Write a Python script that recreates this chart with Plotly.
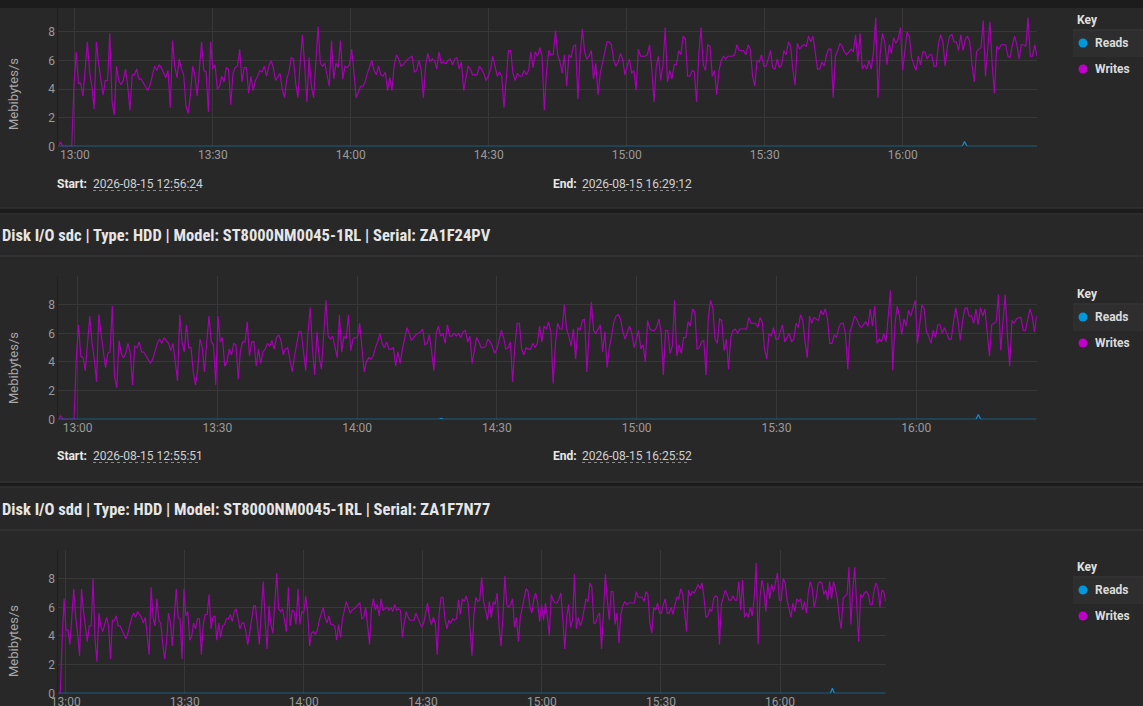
import plotly.graph_objects as go
import pandas as pd

W, H = 1143, 706

# ---------------- data ----------------
panel_titles = [
    "",
    "Disk I/O sdc | Type: HDD | Model: ST8000NM0045-1RL | Serial: ZA1F24PV",
    "Disk I/O sdd | Type: HDD | Model: ST8000NM0045-1RL | Serial: ZA1F7N77",
]
start_times = ["2026-08-15 12:56:24", "2026-08-15 12:55:51", "2026-08-15 12:58:08"]
end_times = ["2026-08-15 16:29:12", "2026-08-15 16:25:52", "2026-08-15 16:26:38"]
series_names = ["Reads", "Writes"]
y_ticks = [0, 2, 4, 6, 8]

writes_1 = [
    0, 0.3, 0, 0, 0, 0, 0, 4.3, 6.6, 4.4, 4.4, 3.5, 5.5, 7.3, 5.2, 4.2, 2.6, 7.3, 5.8, 4.8,
    3.6, 4.6, 4.6, 7.9, 3.1, 2.2, 5.6, 4.6, 4.3, 4.6, 5.4, 4.2, 2.5, 5.0, 5.0, 5.4, 4.7, 4.7, 4.4, 4.1,
    3.9, 4.3, 4.9, 5.6, 5.3, 5.7, 5.5, 5.2, 4.8, 5.3, 2.7, 7.4, 5.6, 4.8, 6.1, 5.4, 5.0, 2.8, 2.3, 3.6,
    5.6, 5.0, 3.5, 5.4, 7.3, 5.3, 5.2, 2.4, 7.3, 5.4, 5.7, 4.0, 4.2, 4.9, 4.5, 5.5, 5.4, 2.9, 5.1, 5.5,
    5.6, 6.8, 4.5, 5.5, 5.5, 3.7, 4.9, 3.9, 4.6, 4.9, 5.3, 5.2, 5.6, 4.9, 5.6, 6.0, 5.5, 4.6, 4.9, 5.1,
    4.0, 3.4, 4.7, 5.2, 6.2, 6.1, 4.4, 3.4, 5.8, 7.8, 5.7, 3.1, 6.2, 4.2, 3.4, 6.0, 8.4, 5.8, 5.6, 5.8,
    5.0, 4.2, 7.4, 4.7, 5.8, 5.5, 7.4, 4.7, 5.6, 5.5, 5.7, 6.8, 5.2, 3.4, 3.8, 4.2, 4.2, 4.5, 5.1, 5.5,
    6.0, 5.3, 5.0, 5.6, 5.0, 4.9, 5.2, 3.9, 4.8, 3.9, 5.7,
    6.4, 6.1, 5.6, 5.7, 5.9, 6.1, 6.2, 6.3, 5.2, 5.3, 6.0, 5.4, 3.4, 5.6, 6.5, 5.9, 6.1, 6.0, 5.4, 6.6,
    5.8, 5.9, 5.8, 6.0, 6.1, 5.7, 6.1, 6.2, 5.4, 5.9, 3.9, 4.9, 5.6, 5.4, 5.0, 5.0, 5.0, 5.6, 5.4, 5.1,
    4.6, 4.9, 5.4, 6.3, 5.6, 4.9, 5.2, 4.9, 2.7, 4.9, 6.7, 6.7, 5.1, 4.6, 5.1, 4.9, 4.9, 5.3, 5.0, 5.3,
    6.6, 5.5, 6.6, 6.3, 6.9, 6.3, 2.5, 5.2, 6.7, 6.4, 6.4, 8.1, 6.4, 5.9, 5.1, 6.4, 4.2, 6.4, 6.2, 7.0,
    7.1, 3.3, 6.4, 8.2, 6.6, 6.1, 6.3, 6.7, 4.7, 5.8, 3.6, 5.1, 5.8, 6.6, 7.3, 7.3, 7.1, 6.0, 5.6, 5.9,
    6.5, 6.1, 5.0, 5.6, 6.1, 5.1, 5.3, 3.9, 6.8, 6.3, 6.3, 6.3, 6.4, 7.1, 5.4, 3.1, 5.6, 6.3, 4.6, 5.7,
    8.3, 4.5, 5.3, 4.7, 5.7, 5.7, 6.7, 6.4, 7.7, 7.5, 4.9, 4.9, 5.3, 5.2, 3.1, 6.5, 8.3, 5.7, 5.3, 7.1,
    7.0, 4.9, 5.3,
    3.6, 5.3, 6.0, 6.3, 6.1, 6.3, 6.3, 6.3, 6.4, 7.1, 6.7, 6.7, 6.7, 6.4, 7.1, 6.8, 4.9, 4.2, 6.0, 5.9,
    6.4, 5.6, 5.6, 6.1, 6.7, 5.5, 5.4, 6.1, 5.5, 5.7, 6.7, 6.4, 7.3, 7.0, 5.3, 4.3, 7.2, 6.8, 7.0, 7.1,
    7.0, 7.7, 7.3, 7.7, 6.6, 5.4, 5.4, 5.9, 5.6, 6.4, 6.8, 6.8, 3.4, 6.3, 6.7, 7.2, 7.0, 6.6, 6.4, 6.6,
    6.8, 6.6, 7.8, 5.9, 7.9, 5.4, 5.7, 5.4, 6.0, 5.4, 6.6, 9.0, 3.4, 6.5, 7.9, 7.3, 5.7, 7.1, 6.5, 7.6,
    7.2, 7.5, 8.3, 5.3, 6.7, 8.0, 7.7, 6.2, 5.7, 5.3, 6.3, 5.7, 6.6, 6.6, 6.1, 6.4, 6.4, 5.6, 5.6, 7.2,
    7.8, 7.3, 5.6, 7.0, 7.7, 7.8, 7.3, 7.3, 6.7, 7.8, 6.7, 7.5, 7.7, 7.3, 5.7, 4.5, 6.6, 6.8, 6.9, 8.8,
    4.9, 7.1, 8.7, 5.7, 3.7, 7.0, 6.8, 7.1, 7.1, 7.1, 6.3, 6.2, 7.1, 7.7, 7.1, 6.1, 7.1, 7.1, 7.0, 9.0,
    6.3, 6.3, 7.1, 6.3,
]

writes_2 = [
    0, 0.25, 0, 0, 0, 0, 0, 0, 4.3, 6.6, 4.4, 4.3, 3.4, 5.3, 7.2, 5.3, 4.2, 2.6, 7.3, 6.0,
    4.9, 3.6, 4.6, 4.7, 7.9, 3.0, 2.2, 5.5, 4.6, 4.3, 4.6, 5.3, 4.6, 2.4, 5.1, 5.0, 5.4, 4.7, 4.7, 4.4,
    4.1, 3.9, 4.2, 4.8, 5.3, 5.6, 5.3, 5.7, 5.5, 5.3, 4.8, 5.3, 4.0, 2.7, 7.3, 5.4, 4.7, 6.6, 5.0, 5.0,
    3.3, 2.4, 3.5, 5.6, 5.0, 3.3, 5.4, 7.2, 5.4, 5.2, 2.4, 7.2, 5.4, 5.7, 3.7, 4.0, 4.9, 4.5, 5.3, 5.2,
    2.8, 4.8, 5.4, 5.4, 6.8, 4.4, 5.4, 5.4, 3.7, 4.9, 3.9, 4.7, 4.9, 5.3, 5.1, 5.5, 4.9, 5.7, 5.9, 5.5,
    4.5, 4.9, 5.0, 4.0, 3.3, 4.4, 5.3, 6.1, 6.1, 4.7, 3.4, 6.0, 7.8, 4.9, 3.1, 6.1, 4.3, 3.5, 6.1, 8.3,
    5.8, 5.6, 5.8, 5.0, 4.3, 7.3, 4.7, 5.8, 5.6, 7.3, 4.8, 5.6, 5.7, 5.7, 6.7, 5.0, 3.3, 4.0, 4.3, 4.2,
    4.4, 5.0, 5.4, 6.0, 5.3,
    5.0, 5.4, 4.9, 4.9, 5.0, 3.7, 4.7, 3.9, 4.9, 5.8, 6.4, 6.0, 5.5, 5.7, 5.9, 6.0, 6.1, 6.3, 5.2, 5.3,
    5.9, 4.7, 3.4, 6.0, 6.5, 5.8, 6.0, 5.3, 6.6, 5.8, 5.8, 6.0, 5.8, 6.0, 5.7, 6.1, 6.2, 5.4, 5.8, 3.9,
    4.9, 5.7, 5.4, 5.0, 5.0, 5.1, 5.6, 5.4, 5.1, 4.6, 4.9, 5.6, 6.2, 5.7, 4.9, 5.0, 5.4, 2.6, 5.1, 6.7,
    6.7, 4.9, 4.5, 5.0, 4.9, 4.9, 5.3, 5.0, 5.3, 6.5, 5.4, 6.5, 6.3, 6.8, 6.1, 2.5, 5.2, 6.7, 6.3, 6.3,
    8.0, 6.3, 5.8, 5.1, 6.3, 4.2, 6.4, 6.2, 6.9, 7.0, 3.3, 6.0, 8.2, 6.2, 6.0, 6.3, 6.6, 4.7, 6.1, 3.6,
    5.0, 5.8, 6.8, 7.2, 7.3, 7.0, 6.1, 5.6, 6.0, 6.5, 6.0, 5.0, 5.6, 6.2, 4.9, 5.2, 4.0, 6.9, 6.3, 6.2,
    6.2, 6.4, 7.0, 6.1, 3.1, 6.2, 6.2, 4.6, 5.1, 8.3, 4.4, 5.2, 4.6, 5.7, 5.7, 6.8, 6.5, 7.7, 7.5, 4.9,
    5.0, 5.4, 5.5, 3.1, 7.1, 8.3,
    7.8, 5.6, 5.3, 7.0, 6.9, 4.8, 5.6, 3.5, 5.7, 6.2, 6.3, 6.0, 6.3, 6.3, 6.3, 6.3, 7.1, 6.7, 6.7, 6.7,
    6.4, 7.1, 6.8, 4.9, 4.2, 6.0, 5.8, 6.4, 5.6, 5.6, 6.1, 6.6, 5.4, 5.7, 6.0, 5.4, 5.6, 6.7, 6.4, 7.3,
    6.9, 5.4, 4.3, 7.2, 6.7, 7.1, 7.0, 6.9, 7.6, 7.3, 7.7, 7.0, 5.3, 5.3, 5.9, 5.7, 6.4, 6.7, 6.7, 5.9,
    3.5, 6.1, 6.6, 7.2, 7.0, 6.6, 6.4, 6.6, 6.8, 6.5, 7.7, 6.5, 7.9, 5.3, 5.6, 5.4, 6.0, 5.4, 7.2, 9.0,
    3.4, 6.7, 7.9, 7.2, 5.9, 7.0, 6.5, 7.6, 7.2, 7.7, 8.3, 5.3, 6.7, 8.0, 7.7, 6.1, 5.8, 5.3, 6.2, 5.7,
    6.6, 6.6, 6.0, 6.4, 6.0, 5.6, 5.6, 6.8, 7.8, 6.9, 5.5, 6.8, 7.7, 7.8, 7.2, 7.2, 6.7, 7.7, 6.6, 7.8,
    7.2, 7.7, 6.1, 4.4, 6.6, 6.7, 6.8, 8.7, 4.8, 6.8, 8.7, 5.8, 3.7, 6.9, 6.7, 7.0, 7.1, 7.1, 6.2, 6.2,
    7.1, 7.7, 7.2, 6.1, 7.2,
]

writes_3 = [
    0, 0, 3.7, 6.6, 4.4, 4.4, 3.4, 5.2, 7.3, 5.3, 4.2, 2.6, 7.3, 5.8, 4.8, 3.6, 4.7, 4.7, 8.0, 3.8,
    2.2, 5.6, 4.7, 4.3, 4.8, 5.3, 4.7, 2.4, 5.1, 5.1, 5.4, 4.7, 4.7, 4.4, 4.1, 3.8, 4.2, 4.8, 5.3, 5.6,
    5.3, 5.7, 5.5, 5.3, 4.9, 5.3, 4.0, 2.7, 7.4, 5.3, 4.7, 6.6, 5.1, 4.9, 3.5, 2.4, 3.6, 5.6, 4.9, 3.3,
    5.3, 7.3, 5.3, 5.2, 2.4, 7.3, 5.4, 5.7, 3.7, 4.0, 4.9, 4.5, 5.2, 5.2, 2.7, 4.8, 5.5, 5.5, 6.9, 4.5,
    5.3, 5.4, 3.7, 4.9, 3.9, 4.7, 4.8, 5.2, 5.2, 5.5, 5.0, 5.7, 5.9, 5.3, 4.5, 4.9, 4.9, 4.3, 3.4, 4.2,
    5.2, 6.1, 6.1, 4.5, 3.4, 5.7, 7.8, 5.1, 3.1, 6.1, 4.8, 4.2, 6.2, 8.4, 5.9, 5.7, 5.9, 5.0, 4.3, 7.4,
    4.7, 5.8, 5.7, 4.8, 7.3, 4.8, 5.7, 5.6, 6.8, 5.6, 3.3, 4.2, 4.3, 4.1, 4.4, 5.1, 5.6, 6.0, 5.3, 4.9,
    5.4, 4.8, 4.8,
    4.7, 3.7, 4.8, 3.9, 5.2, 5.8, 6.4, 6.0, 5.6, 5.8, 5.9, 6.0, 6.2, 6.3, 5.2, 5.3, 6.0, 4.8, 3.4, 5.9,
    6.6, 5.8, 6.2, 5.4, 6.6, 5.8, 5.9, 6.0, 5.8, 6.0, 5.7, 6.2, 5.8, 5.9, 5.8, 3.9, 4.9, 5.7, 5.3, 5.1,
    5.1, 5.1, 5.6, 5.3, 4.9, 4.6, 4.9, 5.7, 6.3, 5.3, 4.8, 5.3, 4.9, 2.7, 5.6, 6.7, 6.7, 5.2, 4.5, 5.1,
    4.9, 5.2, 5.1, 5.2, 6.5, 5.5, 6.6, 6.4, 6.8, 6.3, 4.4, 2.6, 5.5, 6.7, 6.4, 6.5, 8.1, 6.4, 5.8, 5.1,
    6.4, 5.3, 6.4, 6.2, 7.0, 4.7, 3.3, 5.3, 8.2, 6.2, 6.0, 6.2, 6.6, 4.6, 5.3, 3.6, 5.3, 6.0, 6.7, 7.3,
    7.1, 6.0, 5.6, 6.6, 7.0, 6.3, 5.0, 6.2, 5.1, 6.3, 5.3, 4.0, 6.9, 6.5, 6.3, 6.3, 6.6, 7.0, 5.1, 3.1,
    5.3, 6.2, 4.6, 5.1, 8.3, 4.5, 5.3, 4.7, 5.1, 5.8, 6.6, 6.4, 7.7, 7.4, 4.9, 4.9, 5.4, 5.6, 3.1, 5.6,
    8.3, 6.5, 5.1, 7.1, 7.1,
    4.8, 5.6, 3.5, 5.5, 6.1, 6.4, 6.2, 6.3, 6.3, 6.3, 6.3, 7.1, 6.7, 6.7, 6.7, 6.4, 7.1, 6.9, 4.9, 4.2,
    6.0, 5.8, 6.3, 5.6, 5.6, 6.2, 6.6, 5.6, 5.6, 6.0, 5.5, 6.2, 6.7, 6.6, 7.3, 6.9, 5.5, 4.3, 7.2, 6.8,
    7.1, 7.0, 7.3, 7.6, 7.3, 7.7, 6.7, 5.3, 5.4, 5.9, 5.7, 6.6, 6.8, 6.7, 3.4, 6.2, 6.7, 7.2, 6.9, 6.5,
    6.5, 6.8, 6.5, 6.5, 7.8, 5.8, 7.9, 5.3, 5.6, 5.3, 6.0, 5.4, 6.7, 9.1, 3.4, 6.7, 7.9, 7.2, 5.7, 7.7,
    6.6, 7.6, 7.1, 7.7, 8.4, 6.5, 6.5, 8.0, 7.7, 6.5, 5.8, 5.3, 6.3, 5.7, 6.6, 6.4, 6.6, 5.8, 6.4, 5.6,
    7.1, 7.8, 7.3, 6.0, 6.6, 7.6, 7.8, 7.7, 6.9, 7.2, 6.5, 7.8, 6.6, 7.8, 7.3, 6.6, 5.3, 4.5, 6.6, 6.8,
    6.9, 8.8, 4.8, 7.3, 8.8, 5.9, 3.6, 6.9, 6.7, 7.0, 7.1, 6.9, 6.2, 6.2, 7.2, 7.7, 7.3, 6.0, 7.2, 7.1,
    6.4,
]

reads_1 = [
    0, 0, 0, 0, 0, 0, 0, 0, 0, 0, 0, 0, 0, 0, 0, 0, 0, 0, 0, 0,
    0, 0, 0, 0, 0, 0, 0, 0, 0, 0, 0, 0, 0, 0, 0, 0, 0, 0, 0, 0,
    0, 0, 0, 0, 0, 0, 0, 0, 0, 0, 0, 0, 0, 0, 0, 0, 0, 0, 0, 0,
    0, 0, 0, 0, 0, 0, 0, 0, 0, 0, 0, 0, 0, 0, 0, 0, 0, 0, 0, 0,
    0, 0, 0, 0, 0, 0, 0, 0, 0, 0, 0, 0, 0, 0, 0, 0, 0, 0, 0, 0,
    0, 0, 0, 0, 0, 0, 0, 0, 0, 0, 0, 0, 0, 0, 0, 0, 0, 0, 0, 0,
    0, 0, 0, 0, 0, 0, 0, 0, 0, 0, 0, 0, 0, 0, 0, 0, 0, 0, 0, 0,
    0, 0, 0, 0, 0, 0, 0, 0, 0, 0, 0, 0, 0, 0, 0, 0, 0, 0, 0, 0,
    0, 0.05, 0, 0, 0, 0, 0, 0, 0, 0, 0, 0, 0, 0, 0, 0, 0, 0, 0, 0,
    0, 0, 0, 0, 0, 0, 0, 0, 0, 0, 0, 0, 0, 0, 0, 0, 0, 0, 0, 0,
    0, 0, 0, 0, 0, 0, 0, 0, 0, 0, 0, 0, 0, 0, 0, 0, 0, 0, 0, 0,
    0, 0, 0, 0, 0, 0, 0, 0, 0, 0, 0, 0, 0, 0, 0, 0, 0, 0, 0, 0,
    0, 0, 0, 0, 0, 0, 0, 0, 0, 0, 0, 0, 0, 0, 0, 0, 0, 0, 0, 0,
    0, 0, 0, 0, 0, 0, 0, 0, 0, 0, 0, 0, 0, 0, 0, 0, 0, 0, 0, 0,
    0, 0, 0, 0, 0, 0, 0, 0, 0, 0, 0, 0, 0, 0, 0, 0, 0, 0, 0, 0,
    0, 0, 0, 0, 0, 0, 0, 0, 0, 0, 0, 0, 0, 0, 0, 0, 0, 0, 0, 0,
    0, 0, 0, 0, 0, 0, 0, 0, 0, 0, 0, 0, 0, 0, 0, 0, 0, 0, 0, 0,
    0, 0, 0, 0, 0, 0, 0, 0, 0, 0, 0, 0, 0, 0, 0, 0, 0, 0, 0, 0,
    0, 0, 0, 0, 0, 0, 0, 0, 0, 0, 0, 0, 0, 0, 0, 0, 0, 0, 0, 0,
    0, 0, 0, 0, 0, 0, 0, 0, 0.33, 0, 0, 0, 0, 0, 0, 0, 0, 0, 0, 0,
    0, 0, 0, 0, 0, 0, 0, 0, 0, 0, 0, 0, 0, 0, 0, 0, 0, 0, 0, 0,
]

reads_2 = [
    0, 0, 0, 0, 0, 0, 0, 0, 0, 0, 0, 0, 0, 0, 0, 0, 0, 0, 0, 0,
    0, 0, 0, 0, 0, 0, 0, 0, 0, 0, 0, 0, 0, 0, 0, 0, 0, 0, 0, 0,
    0, 0, 0, 0, 0, 0, 0, 0, 0, 0, 0, 0, 0, 0, 0, 0, 0, 0, 0, 0,
    0, 0, 0, 0, 0, 0, 0, 0, 0, 0, 0, 0, 0, 0, 0, 0, 0, 0, 0, 0,
    0, 0, 0, 0, 0, 0, 0, 0, 0, 0, 0, 0, 0, 0, 0, 0, 0, 0, 0, 0,
    0, 0, 0, 0, 0, 0, 0, 0, 0, 0, 0, 0, 0, 0, 0, 0, 0, 0, 0, 0,
    0, 0, 0, 0, 0, 0, 0, 0, 0, 0, 0, 0, 0, 0, 0, 0, 0, 0, 0, 0,
    0, 0, 0, 0, 0, 0, 0, 0, 0, 0, 0, 0, 0, 0, 0, 0, 0, 0, 0, 0,
    0, 0, 0, 0, 0.06, 0, 0, 0, 0, 0, 0, 0, 0, 0, 0, 0, 0, 0, 0, 0,
    0, 0, 0, 0, 0, 0, 0, 0, 0, 0, 0, 0, 0, 0, 0, 0, 0, 0, 0, 0,
    0, 0, 0, 0, 0, 0, 0, 0, 0, 0, 0, 0, 0, 0, 0, 0, 0, 0, 0, 0,
    0, 0, 0, 0, 0, 0, 0, 0, 0, 0, 0, 0, 0, 0, 0, 0, 0, 0, 0, 0,
    0, 0, 0, 0, 0, 0, 0, 0, 0, 0, 0, 0, 0, 0, 0, 0, 0, 0, 0, 0,
    0, 0, 0, 0, 0, 0, 0, 0, 0, 0, 0, 0, 0, 0, 0, 0, 0, 0, 0, 0,
    0, 0, 0, 0, 0, 0, 0, 0, 0, 0, 0, 0, 0, 0, 0, 0, 0, 0, 0, 0,
    0, 0, 0, 0, 0, 0, 0, 0, 0, 0, 0, 0, 0, 0, 0, 0, 0, 0, 0, 0,
    0, 0, 0, 0, 0, 0, 0, 0, 0, 0, 0, 0, 0, 0, 0, 0, 0, 0, 0, 0,
    0, 0, 0, 0, 0, 0, 0, 0, 0, 0, 0, 0, 0, 0, 0, 0, 0, 0, 0, 0,
    0, 0, 0, 0, 0, 0, 0, 0, 0, 0, 0, 0, 0, 0, 0, 0, 0, 0, 0, 0,
    0, 0, 0, 0, 0, 0, 0, 0, 0, 0, 0, 0, 0, 0, 0.33, 0, 0, 0, 0, 0,
    0, 0, 0, 0, 0, 0, 0, 0, 0, 0, 0, 0, 0, 0, 0, 0, 0, 0, 0, 0,
]

reads_3 = [
    0, 0, 0, 0, 0, 0, 0, 0, 0, 0, 0, 0, 0, 0, 0, 0, 0, 0, 0, 0,
    0, 0, 0, 0, 0, 0, 0, 0, 0, 0, 0, 0, 0, 0, 0, 0, 0, 0, 0, 0,
    0, 0, 0, 0, 0, 0, 0, 0, 0, 0, 0, 0, 0, 0, 0, 0, 0, 0, 0, 0,
    0, 0, 0, 0, 0, 0, 0, 0, 0, 0, 0, 0, 0, 0, 0, 0, 0, 0, 0, 0,
    0, 0, 0, 0, 0, 0, 0, 0, 0, 0, 0, 0, 0, 0, 0, 0, 0, 0, 0, 0,
    0, 0, 0, 0, 0, 0, 0, 0, 0, 0, 0, 0, 0, 0, 0, 0, 0, 0, 0, 0,
    0, 0, 0, 0, 0, 0, 0, 0, 0, 0, 0, 0, 0, 0, 0, 0, 0, 0, 0, 0,
    0, 0, 0, 0, 0, 0, 0, 0, 0, 0, 0, 0.05, 0, 0, 0, 0, 0, 0, 0, 0,
    0, 0.05, 0, 0, 0, 0, 0, 0, 0, 0, 0, 0, 0, 0, 0, 0, 0, 0, 0, 0,
    0, 0, 0, 0, 0, 0, 0, 0, 0, 0, 0, 0, 0, 0, 0, 0, 0, 0, 0, 0,
    0, 0, 0, 0, 0, 0, 0, 0, 0, 0, 0, 0, 0, 0, 0, 0, 0, 0, 0, 0,
    0, 0, 0, 0, 0, 0, 0, 0, 0, 0, 0, 0, 0, 0, 0, 0, 0, 0, 0, 0,
    0, 0, 0, 0, 0, 0, 0, 0, 0, 0, 0, 0, 0, 0, 0, 0, 0, 0, 0, 0,
    0, 0, 0, 0, 0, 0, 0, 0, 0, 0, 0, 0, 0, 0, 0, 0, 0, 0, 0, 0,
    0, 0, 0, 0, 0, 0, 0, 0, 0, 0, 0, 0, 0, 0, 0, 0, 0, 0, 0, 0,
    0, 0, 0, 0, 0, 0, 0, 0, 0, 0, 0, 0, 0, 0, 0, 0, 0, 0, 0, 0,
    0, 0, 0, 0, 0, 0, 0, 0, 0, 0, 0, 0, 0, 0, 0, 0, 0, 0, 0, 0,
    0, 0, 0, 0, 0, 0, 0, 0, 0, 0, 0, 0, 0, 0, 0, 0, 0, 0, 0, 0,
    0, 0, 0, 0, 0, 0, 0, 0, 0, 0, 0, 0, 0, 0, 0, 0, 0, 0, 0, 0,
    0, 0, 0, 0, 0, 0, 0, 0, 0, 0, 0, 0, 0.35, 0, 0, 0, 0, 0, 0, 0,
    0, 0, 0, 0, 0, 0, 0, 0, 0, 0, 0, 0, 0, 0, 0, 0, 0, 0, 0, 0,
]

writes_all = [writes_1, writes_2, writes_3]
reads_all = [reads_1, reads_2, reads_3]

# ---------------- styling / geometry (pixels) ----------------
BG = "#282828"
BAND = "#1c1c1c"
GRID = "#383838"
TICK = "#9a9a9a"
READ_C = "#0d8fd1"
WRITE_C = "#a900b6"
READ_DOT = "#0098dc"
WRITE_DOT = "#c000c9"
FONT = "Roboto"
TITLE_FONT = "Liberation Sans Narrow, Roboto Condensed, Roboto"

geom = [
    dict(top=3.3, bottom=146.3, left=58.3, right=1037, key=20, ytitle=94, info=184, title=None),
    dict(top=276, bottom=419.3, left=58.3, right=1036.7, key=294, ytitle=368, info=456, title=235),
    dict(top=550, bottom=693.3, left=58.3, right=885.7, key=567, ytitle=641, info=None, title=509),
]


def fx(p):
    return p / W


def fy(p):
    return 1 - p / H


fig = go.Figure()
shapes = []
annotations = []

for i in range(3):
    g = geom[i]
    sfx = "" if i == 0 else str(i + 1)
    t_w = pd.date_range(start_times[i], end_times[i], periods=len(writes_all[i]))
    t_r = pd.date_range(start_times[i], end_times[i], periods=len(reads_all[i]))
    fig.add_trace(go.Scatter(x=t_w, y=writes_all[i], mode="lines", name=series_names[1],
                             line=dict(color=WRITE_C, width=1.15), showlegend=False,
                             xaxis="x" + sfx, yaxis="y" + sfx))
    fig.add_trace(go.Scatter(x=t_r, y=reads_all[i], mode="lines", name=series_names[0],
                             line=dict(color=READ_C, width=1.2), showlegend=False,
                             xaxis="x" + sfx, yaxis="y" + sfx))

    fig.update_layout(**{
        "xaxis" + sfx: dict(
            domain=[fx(g["left"]), fx(g["right"])], anchor="y" + sfx, automargin=False,
            type="date", range=[start_times[i], end_times[i]],
            tick0="2026-08-15 13:00:00", dtick=30 * 60 * 1000, tickformat="%H:%M",
            showgrid=True, gridcolor=GRID, gridwidth=1, zeroline=False, showline=False,
            ticks="", tickfont=dict(family=FONT, size=12, color=TICK),
        ),
        "yaxis" + sfx: dict(
            domain=[fy(g["bottom"]), fy(g["top"])], anchor="x" + sfx, automargin=False,
            range=[0, 10], tickvals=y_ticks, showgrid=True, gridcolor=GRID, gridwidth=1,
            zeroline=False, showline=True, linecolor="#1e1e1e", linewidth=1,
            ticks="", tickfont=dict(family=FONT, size=12, color=TICK),
        ),
    })

    # y-axis title
    annotations.append(dict(text="Mebibytes/s", x=fx(13), y=fy(g["ytitle"]), xref="paper", yref="paper",
                            xanchor="center", yanchor="middle", textangle=-90, showarrow=False,
                            font=dict(family=FONT, size=13, color="#a8a8a8")))

    # legend ("Key")
    k = g["key"]
    annotations.append(dict(text="<b>Key</b>", x=fx(1075), y=fy(k), xref="paper", yref="paper",
                            xanchor="left", yanchor="middle", showarrow=False,
                            font=dict(family=FONT, size=12, color="#e0e0e0")))
    shapes.append(dict(type="rect", xref="paper", yref="paper", x0=fx(1073), x1=1,
                       y0=fy(k + 37), y1=fy(k + 10.5), fillcolor="#2e2e2e", line=dict(width=0),
                       layer="below"))
    shapes.append(dict(type="line", xref="paper", yref="paper", x0=fx(1073), x1=1,
                       y0=fy(k + 10), y1=fy(k + 10), line=dict(color="#3a3a3a", width=1)))
    for j, (name, col, dy) in enumerate([(series_names[0], READ_DOT, 23), (series_names[1], WRITE_DOT, 49)]):
        cy = k + dy
        shapes.append(dict(type="circle", xref="paper", yref="paper",
                           x0=fx(1078.5), x1=fx(1087.5), y0=fy(cy + 4.5), y1=fy(cy - 4.5),
                           fillcolor=col, line=dict(width=0)))
        annotations.append(dict(text="<b>" + name + "</b>", x=fx(1093), y=fy(cy), xref="paper", yref="paper",
                                xanchor="left", yanchor="middle", showarrow=False,
                                font=dict(family=FONT, size=12, color="#dcdcdc")))

    # start / end info
    if g["info"] is not None:
        yy = g["info"]
        for lbl, lx, val, vx, vx2 in [("Start:", 55, start_times[i], 91, 199),
                                       ("End:", 551, end_times[i], 580, 688)]:
            annotations.append(dict(text="<b>" + lbl + "</b>", x=fx(lx), y=fy(yy), xref="paper", yref="paper",
                                    xanchor="left", yanchor="middle", showarrow=False,
                                    font=dict(family=FONT, size=12, color="#e8e8e8")))
            annotations.append(dict(text=val, x=fx(vx), y=fy(yy), xref="paper", yref="paper",
                                    xanchor="left", yanchor="middle", showarrow=False,
                                    font=dict(family=FONT, size=12, color="#d0d0d0")))
            shapes.append(dict(type="line", xref="paper", yref="paper", x0=fx(vx + 2), x1=fx(vx2),
                               y0=fy(yy + 6.5), y1=fy(yy + 6.5),
                               line=dict(color="#8a8a8a", width=1, dash="dot")))

    # panel title
    if g["title"] is not None:
        annotations.append(dict(text="<b>" + panel_titles[i] + "</b>", x=0, y=fy(g["title"]),
                                xref="paper", yref="paper", xanchor="left", yanchor="middle",
                                showarrow=False, font=dict(family=TITLE_FONT, size=16.5, color="#e6e6e6")))
        shapes.append(dict(type="line", xref="paper", yref="paper", x0=0, x1=1,
                           y0=fy(g["title"] + 21), y1=fy(g["title"] + 21),
                           line=dict(color="#3a3a3a", width=1)))

# page bands between panels and at top
for y0p, y1p in [(0, 8), (208.5, 213.5), (482.5, 486.5)]:
    shapes.append(dict(type="rect", xref="paper", yref="paper", x0=0, x1=1,
                       y0=fy(y1p), y1=fy(y0p), fillcolor=BAND, line=dict(width=0), layer="above"))
for yl in [208, 214, 482, 487]:
    shapes.append(dict(type="line", xref="paper", yref="paper", x0=0, x1=1,
                       y0=fy(yl), y1=fy(yl), line=dict(color="#353535", width=1)))

fig.update_layout(
    width=W, height=H, margin=dict(l=0, r=0, t=0, b=0, autoexpand=False),
    paper_bgcolor=BG, plot_bgcolor=BG, showlegend=False,
    shapes=shapes, annotations=annotations,
    font=dict(family=FONT, color=TICK),
)

fig.write_html(
    "out.html",
    config={"displayModeBar": False},
    post_script="document.body.style.margin='0';document.body.style.padding='0';"
                "document.body.style.overflow='hidden';document.body.style.background='#1c1c1c';",
)
